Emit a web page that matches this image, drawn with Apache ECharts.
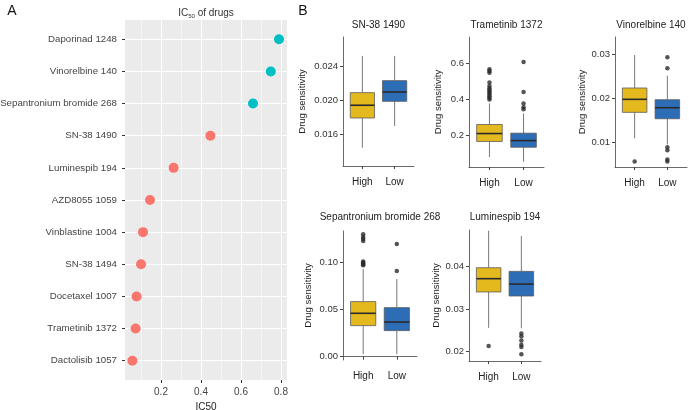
<!DOCTYPE html>
<html><head><meta charset="utf-8">
<script src="https://cdn.jsdelivr.net/npm/echarts@6/dist/echarts.min.js"></script>
<style>html,body{margin:0;padding:0;background:#fff}#c{width:689px;height:410px}</style>
</head><body><div id="c"></div>
<script>
// ---- Panel A data ----
const drugs = ['Daporinad 1248','Vinorelbine 140','Sepantronium bromide 268','SN-38 1490','Luminespib 194','AZD8055 1059','Vinblastine 1004','SN-38 1494','Docetaxel 1007','Trametinib 1372','Dactolisib 1057'];
const ic50 = [0.79, 0.749, 0.66, 0.447, 0.263, 0.145, 0.11, 0.10, 0.078, 0.073, 0.057];
const drugGroup = ['b','b','b','a','a','a','a','a','a','a','a'];
const icTicks = [0.2, 0.4, 0.6, 0.8];
const icMinor = [0.1, 0.3, 0.5, 0.7];

// ---- Panel B data ----
const boxTitles = ['SN-38 1490','Trametinib 1372','Vinorelbine 140','Sepantronium bromide 268','Luminespib 194'];
const riskGroups = ['High','Low'];
// [min, Q1, median, Q3, max]
const statsHigh = [
  [0.01439, 0.01788, 0.01938, 0.02086, 0.02518],
  [0.081, 0.167, 0.211, 0.261, 0.378],
  [0.01097, 0.01683, 0.01977, 0.02233, 0.02977],
  [0.0028, 0.0330, 0.0461, 0.0585, 0.093],
  [0.0256, 0.03405, 0.03718, 0.03976, 0.04847]
];
const statsLow = [
  [0.01694, 0.01984, 0.02094, 0.02227, 0.02518],
  [0.055, 0.135, 0.172, 0.213, 0.322],
  [0.00955, 0.01538, 0.01787, 0.01968, 0.02511],
  [0.0028, 0.0277, 0.0368, 0.0521, 0.0824],
  [0.0255, 0.0331, 0.0359, 0.0389, 0.0472]
];
const outHigh = [
  [],
  [0.567, 0.558, 0.548, 0.494, 0.474, 0.462, 0.452, 0.444, 0.435, 0.426, 0.418, 0.408, 0.400],
  [0.00575],
  [0.130, 0.127, 0.125, 0.123, 0.101, 0.100, 0.099, 0.098, 0.097],
  [0.02134]
];
const outLow = [
  [],
  [0.608, 0.441, 0.378, 0.357, 0.345],
  [0.0293, 0.0268, 0.00893, 0.00826, 0.00615, 0.00575],
  [0.1197, 0.0911],
  [0.0243, 0.0236, 0.0226, 0.0216, 0.0211, 0.0194]
];
const yTicks = [
  [0.016, 0.020, 0.024],
  [0.2, 0.4, 0.6],
  [0.01, 0.02, 0.03],
  [0.00, 0.05, 0.10],
  [0.02, 0.03, 0.04]
];
const yDecimals = [3, 1, 2, 2, 2];
const yRange = [
  [0.01224, 0.0274],
  [0.0256, 0.746],
  [0.00448, 0.03385],
  [-0.0035, 0.1335],
  [0.0178, 0.04864]
];

// ---- styling / layout ----
const FONT = '"Liberation Sans", Arial, sans-serif';
const groupColor = {a: '#F8766D', b: '#00BFC4'};
const boxFill = ['#E4B91E', '#2C6DB6'];
const boxLayout = [
  {left: 343, top: 37, width: 71, height: 129, nameGap: 36, ty: 25},
  {left: 469, top: 37, width: 75, height: 130, nameGap: 26, ty: 25},
  {left: 615, top: 37, width: 72, height: 130, nameGap: 26, ty: 25},
  {left: 343, top: 231, width: 74, height: 129, nameGap: 30, ty: 217},
  {left: 469, top: 230, width: 72, height: 131, nameGap: 26, ty: 217}
];

const grids = [{left: 125, top: 20, width: 162, height: 360, show: true, backgroundColor: '#EBEBEB', borderWidth: 0, outerBoundsMode: 'none', containLabel: false}];
const xAxes = [{
  gridIndex: 0, type: 'value', min: 0.02, max: 0.83,
  name: 'IC50', nameLocation: 'middle', nameGap: 21,
  nameTextStyle: {fontFamily: FONT, fontSize: 10, color: '#222'},
  axisLine: {show: false},
  axisTick: {show: true, length: 3, lineStyle: {color: '#333'}, customValues: icTicks},
  axisLabel: {fontFamily: FONT, fontSize: 10, color: '#444', margin: 7, customValues: icTicks, formatter: v => v.toFixed(1)},
  splitLine: {show: false}
}];
const yAxes = [{
  gridIndex: 0, type: 'value', min: 0.4, max: drugs.length + 0.6,
  axisLine: {show: false},
  axisTick: {show: true, length: 3, lineStyle: {color: '#333'}, customValues: drugs.map((d, i) => i + 1)},
  axisLabel: {fontFamily: FONT, fontSize: 9.7, color: '#444', margin: 8, customValues: drugs.map((d, i) => i + 1),
    formatter: v => drugs[drugs.length - Math.round(v)]},
  splitLine: {show: false}
}];

const series = [];
// grid lines for panel A (ggplot style)
const gl = [];
icMinor.forEach(v => gl.push({xAxis: v, lineStyle: {color: '#fff', width: 0.5, type: 'solid'}}));
icTicks.forEach(v => gl.push({xAxis: v, lineStyle: {color: '#fff', width: 1, type: 'solid'}}));
drugs.forEach((d, i) => gl.push({yAxis: i + 1, lineStyle: {color: '#fff', width: 1, type: 'solid'}}));
series.push({
  type: 'scatter', xAxisIndex: 0, yAxisIndex: 0, data: [], z: 1,
  markLine: {silent: true, symbol: 'none', label: {show: false}, animation: false, data: gl}
});
series.push({
  type: 'scatter', xAxisIndex: 0, yAxisIndex: 0, z: 5, symbolSize: 10,
  data: drugs.map((d, i) => ({value: [ic50[i], drugs.length - i], itemStyle: {color: groupColor[drugGroup[i]], opacity: 1}}))
});

const graphics = [
  {type: 'text', x: 12, y: 11, style: {text: 'A', font: '14px ' + FONT, fill: '#111', align: 'center', verticalAlign: 'middle'}},
  {type: 'text', x: 303, y: 11, style: {text: 'B', font: '14px ' + FONT, fill: '#111', align: 'center', verticalAlign: 'middle'}},
  {type: 'text', x: 206, y: 13, style: {
    text: '{n|IC}{s|50}{n| of drugs}', align: 'center', verticalAlign: 'middle',
    rich: {n: {fontFamily: FONT, fontSize: 10, fill: '#333', fontWeight: 'normal', lineHeight: 12},
           s: {fontFamily: FONT, fontSize: 6, fill: '#333', fontWeight: 'normal', verticalAlign: 'bottom', lineHeight: 9}}}}
];

boxTitles.forEach((t, k) => {
  const L = boxLayout[k];
  const gi = k + 1;
  grids.push({left: L.left, top: L.top, width: L.width, height: L.height, outerBoundsMode: 'none', containLabel: false});
  graphics.push({type: 'text', x: L.left + L.width / 2, y: L.ty, style: {
    text: t, font: '10px ' + FONT, fill: '#222', align: 'center', verticalAlign: 'middle'}});
  xAxes.push({
    gridIndex: gi, type: 'value', min: 0.4, max: 2.6,
    axisLine: {show: true, lineStyle: {color: '#444', width: 0.8}},
    axisTick: {show: true, length: 3, lineStyle: {color: '#444'}, customValues: [1, 2]},
    axisLabel: {fontFamily: FONT, fontSize: 10, color: '#222', margin: 11, customValues: [1, 2], formatter: v => riskGroups[Math.round(v) - 1]},
    splitLine: {show: false}
  });
  yAxes.push({
    gridIndex: gi, type: 'value', min: yRange[k][0], max: yRange[k][1],
    name: 'Drug sensitivity', nameLocation: 'middle', nameRotate: 90, nameGap: L.nameGap,
    nameTextStyle: {fontFamily: FONT, fontSize: 9.5, color: '#222'},
    axisLine: {show: true, lineStyle: {color: '#444', width: 0.8}},
    axisTick: {show: true, length: 3, lineStyle: {color: '#444'}, customValues: yTicks[k]},
    axisLabel: {fontFamily: FONT, fontSize: 9.5, color: '#333', margin: 5, customValues: yTicks[k], formatter: v => v.toFixed(yDecimals[k])},
    splitLine: {show: false}
  });
  const boxData = [[1].concat(statsHigh[k]), [2].concat(statsLow[k])];
  series.push({
    type: 'custom', xAxisIndex: gi, yAxisIndex: gi, z: 3,
    encode: {x: 0, y: [1, 2, 3, 4, 5]},
    data: boxData,
    renderItem: (params, api) => {
      const x = api.value(0);
      const mn = api.coord([x, api.value(1)]);
      const q1 = api.coord([x, api.value(2)]);
      const md = api.coord([x, api.value(3)]);
      const q3 = api.coord([x, api.value(4)]);
      const mx = api.coord([x, api.value(5)]);
      const bw = api.size([1, 0])[0] * 0.75;
      const cx = q1[0];
      const stroke = {stroke: '#555', lineWidth: 0.8};
      return {type: 'group', children: [
        {type: 'line', shape: {x1: cx, y1: q3[1], x2: cx, y2: mx[1]}, style: stroke},
        {type: 'line', shape: {x1: cx, y1: q1[1], x2: cx, y2: mn[1]}, style: stroke},
        {type: 'rect', shape: {x: cx - bw / 2, y: q3[1], width: bw, height: q1[1] - q3[1]},
          style: {fill: boxFill[x - 1], stroke: '#5a5a5a', lineWidth: 0.8}},
        {type: 'line', shape: {x1: cx - bw / 2, y1: md[1], x2: cx + bw / 2, y2: md[1]}, style: {stroke: '#2a2a2a', lineWidth: 1.6}}
      ]};
    }
  });
  const pts = outHigh[k].map(v => [1, v]).concat(outLow[k].map(v => [2, v]));
  series.push({
    type: 'scatter', xAxisIndex: gi, yAxisIndex: gi, z: 4, symbolSize: 4.5,
    itemStyle: {color: '#2b2b2b'}, data: pts
  });
});

const chart = echarts.init(document.getElementById('c'), null, {renderer: 'canvas'});
chart.setOption({
  animation: false,
  backgroundColor: '#fff',
  graphic: graphics,
  grid: grids,
  xAxis: xAxes,
  yAxis: yAxes,
  series: series
});
</script>
</body></html>
